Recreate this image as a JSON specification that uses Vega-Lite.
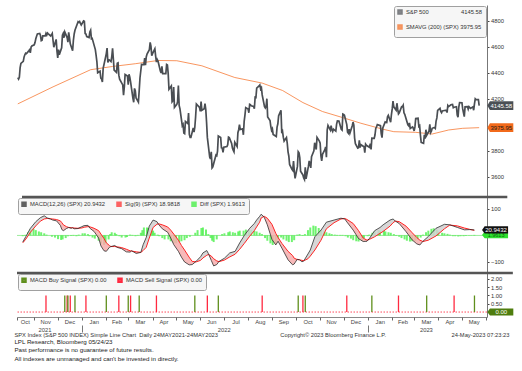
{
"$schema": "https://vega.github.io/schema/vega-lite/v6.json",
"padding": {"left": 14, "top": 5, "right": 0, "bottom": 0},
"background": "white",
"spacing": 1,
"bounds": "flush",
"config": {
  "font": "Liberation Sans",
  "view": {"stroke": null},
  "axis": {"grid": false, "title": null, "labelFont": "Liberation Sans", "labelFontSize": 5.8, "labelColor": "#333", "domainColor": "#777", "domainWidth": 1, "tickColor": "#444", "tickSize": 2, "labelPadding": 1.5, "labelOverlap": false},
  "legend": {"title": null, "labelFont": "Liberation Sans", "labelFontSize": 5.8, "labelColor": "#333", "symbolType": "square", "symbolSize": 9, "symbolStrokeWidth": 2.5, "fillColor": "#f6f6f6", "strokeColor": "#a0a0a0", "padding": 3, "cornerRadius": 2, "rowPadding": 1, "labelOffset": 3, "labelLimit": 0, "columnPadding": 6, "offset": 1}
},
"title": {
  "text": "SPX Index (S&P 500 INDEX) Simple Line Chart \u00a0Daily 24MAY2021-24MAY2023\u00a0\u00a0\u00a0\u00a0\u00a0\u00a0\u00a0\u00a0\u00a0\u00a0\u00a0\u00a0\u00a0\u00a0\u00a0\u00a0\u00a0\u00a0\u00a0\u00a0\u00a0\u00a0\u00a0\u00a0\u00a0\u00a0\u00a0\u00a0\u00a0\u00a0\u00a0\u00a0\u00a0\u00a0\u00a0\u00a0\u00a0\u00a0\u00a0Copyright© 2023 Bloomberg Finance L.P.\u00a0\u00a0\u00a0\u00a0\u00a0\u00a0\u00a0\u00a0\u00a0\u00a0\u00a0\u00a0\u00a0\u00a0\u00a0\u00a0\u00a0\u00a0\u00a0\u00a0\u00a0\u00a0\u00a0\u00a0\u00a0\u00a0\u00a0\u00a0\u00a0\u00a0\u00a0\u00a0\u00a0\u00a0\u00a0\u00a0\u00a0\u00a0\u00a0\u00a0\u00a024-May-2023 07:23:23",
  "subtitle": ["LPL Research, Bloomberg 05/24/23", "Past performance is no guarantee of future results.", "All indexes are unmanaged and can't be invested in directly."],
  "orient": "bottom", "anchor": "start", "offset": -1,
  "font": "Liberation Sans", "fontSize": 5.75, "fontWeight": "normal", "color": "#333",
  "subtitleFont": "Liberation Sans", "subtitleFontSize": 6.2, "subtitleColor": "#222", "subtitleLineHeight": 8.4, "subtitlePadding": 1.5
},
"resolve": {"scale": {"color": "independent"}, "legend": {"color": "independent"}},
"datasets": {
"spx": [
{"d":"2021-10-11","v":4361},{"d":"2021-10-12","v":4350},{"d":"2021-10-13","v":4364},{"d":"2021-10-14","v":4438},{"d":"2021-10-15","v":4471},{"d":"2021-10-18","v":4486},{"d":"2021-10-19","v":4519},{"d":"2021-10-20","v":4537},{"d":"2021-10-21","v":4549},{"d":"2021-10-22","v":4545},{"d":"2021-10-25","v":4567},{"d":"2021-10-26","v":4575},{"d":"2021-10-27","v":4552},{"d":"2021-10-28","v":4596},{"d":"2021-10-29","v":4605},
{"d":"2021-11-01","v":4613},{"d":"2021-11-02","v":4631},{"d":"2021-11-03","v":4660},{"d":"2021-11-04","v":4680},{"d":"2021-11-05","v":4697},{"d":"2021-11-08","v":4701},{"d":"2021-11-09","v":4685},{"d":"2021-11-10","v":4646},{"d":"2021-11-11","v":4649},{"d":"2021-11-12","v":4682},{"d":"2021-11-15","v":4682},{"d":"2021-11-16","v":4701},{"d":"2021-11-17","v":4688},{"d":"2021-11-18","v":4704},{"d":"2021-11-19","v":4698},{"d":"2021-11-22","v":4682},{"d":"2021-11-23","v":4690},{"d":"2021-11-24","v":4701},{"d":"2021-11-26","v":4595},{"d":"2021-11-29","v":4655},{"d":"2021-11-30","v":4567},
{"d":"2021-12-01","v":4513},{"d":"2021-12-02","v":4577},{"d":"2021-12-03","v":4538},{"d":"2021-12-06","v":4591},{"d":"2021-12-07","v":4687},{"d":"2021-12-08","v":4701},{"d":"2021-12-09","v":4668},{"d":"2021-12-10","v":4712},{"d":"2021-12-13","v":4669},{"d":"2021-12-14","v":4634},{"d":"2021-12-15","v":4710},{"d":"2021-12-16","v":4669},{"d":"2021-12-17","v":4621},{"d":"2021-12-20","v":4568},{"d":"2021-12-21","v":4649},{"d":"2021-12-22","v":4697},{"d":"2021-12-23","v":4726},{"d":"2021-12-27","v":4791},{"d":"2021-12-28","v":4786},{"d":"2021-12-29","v":4793},{"d":"2021-12-30","v":4778},{"d":"2021-12-31","v":4766},
{"d":"2022-01-03","v":4797},{"d":"2022-01-04","v":4794},{"d":"2022-01-05","v":4701},{"d":"2022-01-06","v":4696},{"d":"2022-01-07","v":4677},{"d":"2022-01-10","v":4670},{"d":"2022-01-11","v":4713},{"d":"2022-01-12","v":4726},{"d":"2022-01-13","v":4660},{"d":"2022-01-14","v":4663},{"d":"2022-01-18","v":4577},{"d":"2022-01-19","v":4533},{"d":"2022-01-20","v":4483},{"d":"2022-01-21","v":4398},{"d":"2022-01-24","v":4410},{"d":"2022-01-25","v":4357},{"d":"2022-01-26","v":4350},{"d":"2022-01-27","v":4327},{"d":"2022-01-28","v":4432},{"d":"2022-01-31","v":4516},
{"d":"2022-02-01","v":4546},{"d":"2022-02-02","v":4589},{"d":"2022-02-03","v":4477},{"d":"2022-02-04","v":4501},{"d":"2022-02-07","v":4484},{"d":"2022-02-08","v":4522},{"d":"2022-02-09","v":4587},{"d":"2022-02-10","v":4504},{"d":"2022-02-11","v":4419},{"d":"2022-02-14","v":4402},{"d":"2022-02-15","v":4472},{"d":"2022-02-16","v":4475},{"d":"2022-02-17","v":4380},{"d":"2022-02-18","v":4349},{"d":"2022-02-22","v":4305},{"d":"2022-02-23","v":4226},{"d":"2022-02-24","v":4289},{"d":"2022-02-25","v":4385},{"d":"2022-02-28","v":4374},
{"d":"2022-03-01","v":4306},{"d":"2022-03-02","v":4387},{"d":"2022-03-03","v":4364},{"d":"2022-03-04","v":4329},{"d":"2022-03-07","v":4201},{"d":"2022-03-08","v":4171},{"d":"2022-03-09","v":4278},{"d":"2022-03-10","v":4260},{"d":"2022-03-11","v":4204},{"d":"2022-03-14","v":4173},{"d":"2022-03-15","v":4262},{"d":"2022-03-16","v":4358},{"d":"2022-03-17","v":4412},{"d":"2022-03-18","v":4463},{"d":"2022-03-21","v":4461},{"d":"2022-03-22","v":4512},{"d":"2022-03-23","v":4457},{"d":"2022-03-24","v":4520},{"d":"2022-03-25","v":4543},{"d":"2022-03-28","v":4576},{"d":"2022-03-29","v":4632},{"d":"2022-03-30","v":4603},{"d":"2022-03-31","v":4530},
{"d":"2022-04-01","v":4546},{"d":"2022-04-04","v":4583},{"d":"2022-04-05","v":4526},{"d":"2022-04-06","v":4481},{"d":"2022-04-07","v":4500},{"d":"2022-04-08","v":4488},{"d":"2022-04-11","v":4413},{"d":"2022-04-12","v":4397},{"d":"2022-04-13","v":4447},{"d":"2022-04-14","v":4392},{"d":"2022-04-18","v":4392},{"d":"2022-04-19","v":4463},{"d":"2022-04-20","v":4459},{"d":"2022-04-21","v":4394},{"d":"2022-04-22","v":4272},{"d":"2022-04-25","v":4297},{"d":"2022-04-26","v":4175},{"d":"2022-04-27","v":4183},{"d":"2022-04-28","v":4288},{"d":"2022-04-29","v":4132},
{"d":"2022-05-02","v":4155},{"d":"2022-05-03","v":4175},{"d":"2022-05-04","v":4300},{"d":"2022-05-05","v":4147},{"d":"2022-05-06","v":4123},{"d":"2022-05-09","v":3991},{"d":"2022-05-10","v":4001},{"d":"2022-05-11","v":3935},{"d":"2022-05-12","v":3930},{"d":"2022-05-13","v":4024},{"d":"2022-05-16","v":4008},{"d":"2022-05-17","v":4088},{"d":"2022-05-18","v":3924},{"d":"2022-05-19","v":3901},{"d":"2022-05-20","v":3901},{"d":"2022-05-23","v":3974},{"d":"2022-05-24","v":3941},{"d":"2022-05-25","v":3979},{"d":"2022-05-26","v":4058},{"d":"2022-05-27","v":4158},{"d":"2022-05-31","v":4132},
{"d":"2022-06-01","v":4101},{"d":"2022-06-02","v":4177},{"d":"2022-06-03","v":4109},{"d":"2022-06-06","v":4121},{"d":"2022-06-07","v":4161},{"d":"2022-06-08","v":4116},{"d":"2022-06-09","v":4018},{"d":"2022-06-10","v":3901},{"d":"2022-06-13","v":3750},{"d":"2022-06-14","v":3735},{"d":"2022-06-15","v":3790},{"d":"2022-06-16","v":3667},{"d":"2022-06-17","v":3675},{"d":"2022-06-21","v":3765},{"d":"2022-06-22","v":3760},{"d":"2022-06-23","v":3796},{"d":"2022-06-24","v":3912},{"d":"2022-06-27","v":3901},{"d":"2022-06-28","v":3821},{"d":"2022-06-29","v":3819},{"d":"2022-06-30","v":3785},
{"d":"2022-07-01","v":3825},{"d":"2022-07-05","v":3831},{"d":"2022-07-06","v":3845},{"d":"2022-07-07","v":3903},{"d":"2022-07-08","v":3899},{"d":"2022-07-11","v":3855},{"d":"2022-07-12","v":3819},{"d":"2022-07-13","v":3802},{"d":"2022-07-14","v":3790},{"d":"2022-07-15","v":3863},{"d":"2022-07-18","v":3831},{"d":"2022-07-19","v":3937},{"d":"2022-07-20","v":3960},{"d":"2022-07-21","v":3999},{"d":"2022-07-22","v":3962},{"d":"2022-07-25","v":3967},{"d":"2022-07-26","v":3921},{"d":"2022-07-27","v":4024},{"d":"2022-07-28","v":4072},{"d":"2022-07-29","v":4130},
{"d":"2022-08-01","v":4119},{"d":"2022-08-02","v":4091},{"d":"2022-08-03","v":4155},{"d":"2022-08-04","v":4152},{"d":"2022-08-05","v":4145},{"d":"2022-08-08","v":4140},{"d":"2022-08-09","v":4122},{"d":"2022-08-10","v":4210},{"d":"2022-08-11","v":4208},{"d":"2022-08-12","v":4280},{"d":"2022-08-15","v":4297},{"d":"2022-08-16","v":4305},{"d":"2022-08-17","v":4275},{"d":"2022-08-18","v":4284},{"d":"2022-08-19","v":4228},{"d":"2022-08-22","v":4138},{"d":"2022-08-23","v":4128},{"d":"2022-08-24","v":4141},{"d":"2022-08-25","v":4199},{"d":"2022-08-26","v":4058},{"d":"2022-08-29","v":4031},{"d":"2022-08-30","v":3986},{"d":"2022-08-31","v":3955},
{"d":"2022-09-01","v":3967},{"d":"2022-09-02","v":3924},{"d":"2022-09-06","v":3908},{"d":"2022-09-07","v":3980},{"d":"2022-09-08","v":4006},{"d":"2022-09-09","v":4067},{"d":"2022-09-12","v":4110},{"d":"2022-09-13","v":3933},{"d":"2022-09-14","v":3946},{"d":"2022-09-15","v":3901},{"d":"2022-09-16","v":3873},{"d":"2022-09-19","v":3900},{"d":"2022-09-20","v":3856},{"d":"2022-09-21","v":3790},{"d":"2022-09-22","v":3758},{"d":"2022-09-23","v":3693},{"d":"2022-09-26","v":3655},{"d":"2022-09-27","v":3647},{"d":"2022-09-28","v":3719},{"d":"2022-09-29","v":3640},{"d":"2022-09-30","v":3586},
{"d":"2022-10-03","v":3678},{"d":"2022-10-04","v":3791},{"d":"2022-10-05","v":3783},{"d":"2022-10-06","v":3745},{"d":"2022-10-07","v":3640},{"d":"2022-10-10","v":3612},{"d":"2022-10-11","v":3589},{"d":"2022-10-12","v":3577},{"d":"2022-10-13","v":3670},{"d":"2022-10-14","v":3583},{"d":"2022-10-17","v":3678},{"d":"2022-10-18","v":3720},{"d":"2022-10-19","v":3696},{"d":"2022-10-20","v":3666},{"d":"2022-10-21","v":3753},{"d":"2022-10-24","v":3797},{"d":"2022-10-25","v":3860},{"d":"2022-10-26","v":3831},{"d":"2022-10-27","v":3808},{"d":"2022-10-28","v":3901},{"d":"2022-10-31","v":3872},
{"d":"2022-11-01","v":3856},{"d":"2022-11-02","v":3759},{"d":"2022-11-03","v":3720},{"d":"2022-11-04","v":3771},{"d":"2022-11-07","v":3807},{"d":"2022-11-08","v":3828},{"d":"2022-11-09","v":3749},{"d":"2022-11-10","v":3957},{"d":"2022-11-11","v":3993},{"d":"2022-11-14","v":3957},{"d":"2022-11-15","v":3992},{"d":"2022-11-16","v":3959},{"d":"2022-11-17","v":3947},{"d":"2022-11-18","v":3965},{"d":"2022-11-21","v":3950},{"d":"2022-11-22","v":4003},{"d":"2022-11-23","v":4027},{"d":"2022-11-25","v":4026},{"d":"2022-11-28","v":3964},{"d":"2022-11-29","v":3958},{"d":"2022-11-30","v":4080},
{"d":"2022-12-01","v":4077},{"d":"2022-12-02","v":4072},{"d":"2022-12-05","v":3999},{"d":"2022-12-06","v":3941},{"d":"2022-12-07","v":3933},{"d":"2022-12-08","v":3964},{"d":"2022-12-09","v":3934},{"d":"2022-12-12","v":3991},{"d":"2022-12-13","v":4019},{"d":"2022-12-14","v":3996},{"d":"2022-12-15","v":3896},{"d":"2022-12-16","v":3852},{"d":"2022-12-19","v":3818},{"d":"2022-12-20","v":3821},{"d":"2022-12-21","v":3879},{"d":"2022-12-22","v":3823},{"d":"2022-12-23","v":3845},{"d":"2022-12-27","v":3829},{"d":"2022-12-28","v":3784},{"d":"2022-12-29","v":3849},{"d":"2022-12-30","v":3840},
{"d":"2023-01-03","v":3825},{"d":"2023-01-04","v":3853},{"d":"2023-01-05","v":3808},{"d":"2023-01-06","v":3895},{"d":"2023-01-09","v":3893},{"d":"2023-01-10","v":3919},{"d":"2023-01-11","v":3970},{"d":"2023-01-12","v":3983},{"d":"2023-01-13","v":3999},{"d":"2023-01-17","v":3991},{"d":"2023-01-18","v":3929},{"d":"2023-01-19","v":3899},{"d":"2023-01-20","v":3973},{"d":"2023-01-23","v":4020},{"d":"2023-01-24","v":4017},{"d":"2023-01-25","v":4016},{"d":"2023-01-26","v":4060},{"d":"2023-01-27","v":4071},{"d":"2023-01-30","v":4018},{"d":"2023-01-31","v":4077},
{"d":"2023-02-01","v":4120},{"d":"2023-02-02","v":4180},{"d":"2023-02-03","v":4136},{"d":"2023-02-06","v":4111},{"d":"2023-02-07","v":4164},{"d":"2023-02-08","v":4118},{"d":"2023-02-09","v":4082},{"d":"2023-02-10","v":4090},{"d":"2023-02-13","v":4137},{"d":"2023-02-14","v":4136},{"d":"2023-02-15","v":4148},{"d":"2023-02-16","v":4090},{"d":"2023-02-17","v":4079},{"d":"2023-02-21","v":3998},{"d":"2023-02-22","v":3991},{"d":"2023-02-23","v":4012},{"d":"2023-02-24","v":3970},{"d":"2023-02-27","v":3982},{"d":"2023-02-28","v":3970},
{"d":"2023-03-01","v":3951},{"d":"2023-03-02","v":3982},{"d":"2023-03-03","v":4046},{"d":"2023-03-06","v":4048},{"d":"2023-03-07","v":3986},{"d":"2023-03-08","v":3992},{"d":"2023-03-09","v":3918},{"d":"2023-03-10","v":3862},{"d":"2023-03-13","v":3855},{"d":"2023-03-14","v":3920},{"d":"2023-03-15","v":3892},{"d":"2023-03-16","v":3960},{"d":"2023-03-17","v":3917},{"d":"2023-03-20","v":3951},{"d":"2023-03-21","v":4002},{"d":"2023-03-22","v":3937},{"d":"2023-03-23","v":3948},{"d":"2023-03-24","v":3971},{"d":"2023-03-27","v":3977},{"d":"2023-03-28","v":3971},{"d":"2023-03-29","v":4027},{"d":"2023-03-30","v":4051},{"d":"2023-03-31","v":4109},
{"d":"2023-04-03","v":4125},{"d":"2023-04-04","v":4101},{"d":"2023-04-05","v":4091},{"d":"2023-04-06","v":4105},{"d":"2023-04-10","v":4110},{"d":"2023-04-11","v":4109},{"d":"2023-04-12","v":4092},{"d":"2023-04-13","v":4146},{"d":"2023-04-14","v":4138},{"d":"2023-04-17","v":4152},{"d":"2023-04-18","v":4154},{"d":"2023-04-19","v":4155},{"d":"2023-04-20","v":4130},{"d":"2023-04-21","v":4133},{"d":"2023-04-24","v":4137},{"d":"2023-04-25","v":4072},{"d":"2023-04-26","v":4056},{"d":"2023-04-27","v":4135},{"d":"2023-04-28","v":4169},
{"d":"2023-05-01","v":4168},{"d":"2023-05-02","v":4120},{"d":"2023-05-03","v":4091},{"d":"2023-05-04","v":4061},{"d":"2023-05-05","v":4136},{"d":"2023-05-08","v":4138},{"d":"2023-05-09","v":4119},{"d":"2023-05-10","v":4138},{"d":"2023-05-11","v":4131},{"d":"2023-05-12","v":4124},{"d":"2023-05-15","v":4136},{"d":"2023-05-16","v":4110},{"d":"2023-05-17","v":4159},{"d":"2023-05-18","v":4198},{"d":"2023-05-19","v":4192},{"d":"2023-05-22","v":4192},{"d":"2023-05-23","v":4145.58}
],
"sma": [
{"d":"2021-10-11","v":4159},{"d":"2021-11-25","v":4290},{"d":"2022-01-12","v":4422},{"d":"2022-02-09","v":4447},{"d":"2022-03-10","v":4468},{"d":"2022-04-08","v":4493},{"d":"2022-05-02","v":4491},{"d":"2022-06-03","v":4452},{"d":"2022-07-15","v":4362},{"d":"2022-08-19","v":4319},{"d":"2022-09-14","v":4262},{"d":"2022-10-10","v":4169},{"d":"2022-11-04","v":4100},{"d":"2022-11-30","v":4053},{"d":"2022-12-23","v":4010},{"d":"2023-01-20","v":3964},{"d":"2023-02-03","v":3945},{"d":"2023-03-03","v":3940},{"d":"2023-03-24","v":3927},{"d":"2023-04-14","v":3958},{"d":"2023-05-02","v":3971},{"d":"2023-05-23","v":3975.95}
],
"macd": [
{"d":"2021-10-11","m":-25,"s":-28},{"d":"2021-10-15","m":-4,"s":-14},{"d":"2021-10-21","m":27,"s":12},{"d":"2021-10-28","m":52,"s":36},{"d":"2021-11-03","m":67,"s":54},{"d":"2021-11-08","m":74,"s":62},{"d":"2021-11-12","m":66,"s":64},{"d":"2021-11-16","m":62,"s":63},{"d":"2021-11-19","m":58,"s":62},{"d":"2021-11-24","m":55,"s":60},{"d":"2021-11-29","m":38,"s":55},{"d":"2021-12-01","m":22,"s":48},{"d":"2021-12-03","m":18,"s":40},{"d":"2021-12-07","m":26,"s":33},{"d":"2021-12-10","m":30,"s":30},{"d":"2021-12-13","m":27,"s":29},{"d":"2021-12-15","m":29,"s":29},{"d":"2021-12-17","m":25,"s":28},{"d":"2021-12-22","m":26,"s":27},{"d":"2021-12-27","m":33,"s":28},{"d":"2021-12-30","m":37,"s":31},
{"d":"2022-01-04","m":38,"s":33},{"d":"2022-01-07","m":26,"s":32},{"d":"2022-01-12","m":15,"s":27},{"d":"2022-01-18","m":-10,"s":18},{"d":"2022-01-21","m":-40,"s":5},{"d":"2022-01-25","m":-58,"s":-12},{"d":"2022-01-28","m":-60,"s":-28},{"d":"2022-02-01","m":-45,"s":-38},{"d":"2022-02-03","m":-42,"s":-42},{"d":"2022-02-08","m":-38,"s":-42},{"d":"2022-02-11","m":-45,"s":-43},{"d":"2022-02-17","m":-50,"s":-46},{"d":"2022-02-23","m":-62,"s":-52},{"d":"2022-02-28","m":-63,"s":-58},{"d":"2022-03-02","m":-58,"s":-59},{"d":"2022-03-08","m":-68,"s":-62},{"d":"2022-03-14","m":-64,"s":-64},{"d":"2022-03-17","m":-35,"s":-57},{"d":"2022-03-21","m":-8,"s":-45},{"d":"2022-03-25","m":35,"s":-10},{"d":"2022-03-30","m":58,"s":30},{"d":"2022-04-04","m":52,"s":42},{"d":"2022-04-06","m":42,"s":44},{"d":"2022-04-11","m":25,"s":40},{"d":"2022-04-18","m":12,"s":32},{"d":"2022-04-22","m":-10,"s":20},{"d":"2022-04-26","m":-35,"s":5},{"d":"2022-05-02","m":-60,"s":-18},{"d":"2022-05-06","m":-82,"s":-38},{"d":"2022-05-10","m":-100,"s":-55},{"d":"2022-05-16","m":-111,"s":-82},{"d":"2022-05-20","m":-110,"s":-98},{"d":"2022-05-25","m":-98,"s":-100},{"d":"2022-05-31","m":-80,"s":-94},{"d":"2022-06-03","m":-66,"s":-85},{"d":"2022-06-08","m":-57,"s":-75},{"d":"2022-06-10","m":-68,"s":-72},{"d":"2022-06-14","m":-95,"s":-78},{"d":"2022-06-17","m":-115,"s":-88},{"d":"2022-06-21","m":-110,"s":-96},{"d":"2022-06-24","m":-98,"s":-99},{"d":"2022-07-01","m":-86,"s":-93},{"d":"2022-07-08","m":-66,"s":-81},{"d":"2022-07-15","m":-60,"s":-71},{"d":"2022-07-21","m":-28,"s":-52},{"d":"2022-07-27","m":0,"s":-30},{"d":"2022-08-03","m":27,"s":-3},{"d":"2022-08-09","m":45,"s":18},{"d":"2022-08-12","m":58,"s":32},{"d":"2022-08-16","m":72,"s":50},{"d":"2022-08-18","m":80,"s":66},{"d":"2022-08-22","m":68,"s":72},{"d":"2022-08-26","m":40,"s":65},{"d":"2022-09-01","m":-15,"s":42},{"d":"2022-09-06","m":-36,"s":8},{"d":"2022-09-09","m":-22,"s":-8},{"d":"2022-09-14","m":-48,"s":-30},{"d":"2022-09-22","m":-92,"s":-60},{"d":"2022-09-28","m":-111,"s":-76},{"d":"2022-09-30","m":-108,"s":-86},{"d":"2022-10-04","m":-90,"s":-91},{"d":"2022-10-07","m":-92,"s":-92},{"d":"2022-10-10","m":-99,"s":-94},{"d":"2022-10-12","m":-98,"s":-95},{"d":"2022-10-13","m":-94,"s":-95},{"d":"2022-10-18","m":-70,"s":-88},{"d":"2022-10-21","m":-55,"s":-78},{"d":"2022-10-27","m":-5,"s":-55},{"d":"2022-11-04","m":20,"s":-18},{"d":"2022-11-11","m":50,"s":25},{"d":"2022-11-21","m":58,"s":48},{"d":"2022-11-30","m":65,"s":62},{"d":"2022-12-05","m":62,"s":64},{"d":"2022-12-08","m":50,"s":60},{"d":"2022-12-16","m":20,"s":45},{"d":"2022-12-23","m":-12,"s":18},{"d":"2022-12-29","m":-23,"s":-10},
{"d":"2023-01-03","m":-22,"s":-18},{"d":"2023-01-06","m":-12,"s":-15},{"d":"2023-01-13","m":18,"s":-5},{"d":"2023-01-20","m":30,"s":8},{"d":"2023-01-24","m":40,"s":15},{"d":"2023-02-02","m":58,"s":35},{"d":"2023-02-06","m":62,"s":48},{"d":"2023-02-09","m":54,"s":54},{"d":"2023-02-14","m":45,"s":52},{"d":"2023-02-23","m":14,"s":35},{"d":"2023-03-03","m":-17,"s":10},{"d":"2023-03-09","m":-32,"s":-8},{"d":"2023-03-13","m":-36,"s":-18},{"d":"2023-03-17","m":-22,"s":-23},{"d":"2023-03-24","m":-4,"s":-18},{"d":"2023-04-03","m":27,"s":-2},{"d":"2023-04-14","m":42,"s":25},{"d":"2023-04-21","m":40,"s":39},{"d":"2023-05-01","m":30,"s":36},{"d":"2023-05-10","m":21,"s":28},{"d":"2023-05-17","m":22,"s":23},{"d":"2023-05-23","m":20.94,"s":18.98}
],
"hist": [
{"d":"2021-10-11","h":-3},{"d":"2021-10-14","h":2},{"d":"2021-10-18","h":12},{"d":"2021-10-21","h":22},{"d":"2021-10-25","h":25},{"d":"2021-10-28","h":20},{"d":"2021-11-01","h":15},{"d":"2021-11-04","h":12},{"d":"2021-11-08","h":8},{"d":"2021-11-11","h":3},{"d":"2021-11-15","h":0},{"d":"2021-11-18","h":-5},{"d":"2021-11-22","h":-8},{"d":"2021-11-26","h":-14},{"d":"2021-11-30","h":-17},{"d":"2021-12-02","h":-15},{"d":"2021-12-06","h":-10},{"d":"2021-12-09","h":-3},{"d":"2021-12-13","h":-2},{"d":"2021-12-16","h":2},{"d":"2021-12-20","h":-3},{"d":"2021-12-23","h":3},{"d":"2021-12-28","h":8},{"d":"2021-12-31","h":8},
{"d":"2022-01-04","h":5},{"d":"2022-01-06","h":-3},{"d":"2022-01-10","h":-8},{"d":"2022-01-13","h":-12},{"d":"2022-01-18","h":-20},{"d":"2022-01-21","h":-30},{"d":"2022-01-25","h":-36},{"d":"2022-01-27","h":-30},{"d":"2022-01-31","h":-15},{"d":"2022-02-02","h":5},{"d":"2022-02-04","h":12},{"d":"2022-02-08","h":10},{"d":"2022-02-10","h":5},{"d":"2022-02-14","h":-3},{"d":"2022-02-17","h":-8},{"d":"2022-02-22","h":-8},{"d":"2022-02-24","h":-6},{"d":"2022-02-28","h":3},{"d":"2022-03-03","h":2},{"d":"2022-03-07","h":-3},{"d":"2022-03-10","h":2},{"d":"2022-03-14","h":10},{"d":"2022-03-16","h":20},{"d":"2022-03-18","h":30},{"d":"2022-03-22","h":30},{"d":"2022-03-24","h":28},{"d":"2022-03-28","h":25},{"d":"2022-03-30","h":18},{"d":"2022-04-01","h":10},{"d":"2022-04-05","h":3},{"d":"2022-04-07","h":-3},{"d":"2022-04-11","h":-10},{"d":"2022-04-14","h":-15},{"d":"2022-04-19","h":-15},{"d":"2022-04-22","h":-22},{"d":"2022-04-26","h":-28},{"d":"2022-04-29","h":-30},{"d":"2022-05-03","h":-25},{"d":"2022-05-06","h":-22},{"d":"2022-05-10","h":-18},{"d":"2022-05-13","h":-10},{"d":"2022-05-17","h":-5},{"d":"2022-05-20","h":0},{"d":"2022-05-24","h":10},{"d":"2022-05-27","h":20},{"d":"2022-06-01","h":28},{"d":"2022-06-03","h":30},{"d":"2022-06-07","h":22},{"d":"2022-06-10","h":5},{"d":"2022-06-13","h":-10},{"d":"2022-06-15","h":-20},{"d":"2022-06-17","h":-25},{"d":"2022-06-21","h":-15},{"d":"2022-06-24","h":0},{"d":"2022-06-28","h":5},{"d":"2022-07-01","h":8},{"d":"2022-07-06","h":12},{"d":"2022-07-08","h":15},{"d":"2022-07-12","h":12},{"d":"2022-07-15","h":10},{"d":"2022-07-19","h":15},{"d":"2022-07-21","h":18},{"d":"2022-07-26","h":18},{"d":"2022-07-29","h":22},{"d":"2022-08-02","h":20},{"d":"2022-08-05","h":20},{"d":"2022-08-09","h":18},{"d":"2022-08-12","h":15},{"d":"2022-08-16","h":10},{"d":"2022-08-19","h":5},{"d":"2022-08-23","h":-10},{"d":"2022-08-26","h":-20},{"d":"2022-08-30","h":-30},{"d":"2022-09-02","h":-36},{"d":"2022-09-06","h":-30},{"d":"2022-09-09","h":-15},{"d":"2022-09-13","h":-8},{"d":"2022-09-16","h":-15},{"d":"2022-09-20","h":-20},{"d":"2022-09-23","h":-25},{"d":"2022-09-27","h":-25},{"d":"2022-09-30","h":-18},{"d":"2022-10-04","h":3},{"d":"2022-10-07","h":5},{"d":"2022-10-11","h":-2},{"d":"2022-10-14","h":5},{"d":"2022-10-18","h":20},{"d":"2022-10-21","h":30},{"d":"2022-10-25","h":37},{"d":"2022-10-28","h":35},{"d":"2022-11-01","h":28},{"d":"2022-11-04","h":20},{"d":"2022-11-08","h":15},{"d":"2022-11-11","h":12},{"d":"2022-11-15","h":8},{"d":"2022-11-18","h":5},{"d":"2022-11-22","h":3},{"d":"2022-11-25","h":2},{"d":"2022-11-29","h":2},{"d":"2022-12-02","h":2},{"d":"2022-12-06","h":-3},{"d":"2022-12-09","h":-8},{"d":"2022-12-13","h":-12},{"d":"2022-12-16","h":-18},{"d":"2022-12-20","h":-22},{"d":"2022-12-23","h":-23},{"d":"2022-12-28","h":-20},{"d":"2022-12-30","h":-10},
{"d":"2023-01-04","h":-3},{"d":"2023-01-06","h":3},{"d":"2023-01-10","h":10},{"d":"2023-01-13","h":15},{"d":"2023-01-18","h":20},{"d":"2023-01-20","h":18},{"d":"2023-01-25","h":20},{"d":"2023-01-27","h":15},{"d":"2023-01-31","h":12},{"d":"2023-02-03","h":10},{"d":"2023-02-07","h":5},{"d":"2023-02-10","h":-2},{"d":"2023-02-14","h":-5},{"d":"2023-02-17","h":-10},{"d":"2023-02-21","h":-15},{"d":"2023-02-24","h":-20},{"d":"2023-02-28","h":-23},{"d":"2023-03-03","h":-22},{"d":"2023-03-07","h":-20},{"d":"2023-03-10","h":-15},{"d":"2023-03-14","h":-8},{"d":"2023-03-17","h":3},{"d":"2023-03-21","h":12},{"d":"2023-03-24","h":18},{"d":"2023-03-28","h":25},{"d":"2023-03-31","h":27},{"d":"2023-04-04","h":22},{"d":"2023-04-06","h":15},{"d":"2023-04-11","h":10},{"d":"2023-04-14","h":8},{"d":"2023-04-18","h":6},{"d":"2023-04-21","h":3},{"d":"2023-04-25","h":-3},{"d":"2023-04-28","h":-3},{"d":"2023-05-02","h":-4},{"d":"2023-05-05","h":-3},{"d":"2023-05-09","h":-3},{"d":"2023-05-12","h":-2},{"d":"2023-05-16","h":-1},{"d":"2023-05-19","h":1},{"d":"2023-05-23","h":2}
],
"sig": [
{"d":"2021-11-16","g":"s"},{"d":"2021-12-10","g":"b"},{"d":"2021-12-13","g":"s"},{"d":"2021-12-14","g":"b"},{"d":"2021-12-17","g":"s"},{"d":"2021-12-23","g":"b"},{"d":"2022-01-06","g":"s"},{"d":"2022-02-01","g":"b"},{"d":"2022-02-17","g":"s"},{"d":"2022-03-01","g":"b"},{"d":"2022-03-04","g":"s"},{"d":"2022-03-15","g":"b"},{"d":"2022-04-06","g":"s"},{"d":"2022-05-25","g":"b"},{"d":"2022-06-10","g":"s"},{"d":"2022-06-24","g":"b"},{"d":"2022-08-19","g":"s"},{"d":"2022-10-04","g":"b"},{"d":"2022-10-10","g":"s"},{"d":"2022-10-13","g":"b"},{"d":"2022-12-05","g":"s"},{"d":"2023-01-06","g":"b"},{"d":"2023-02-09","g":"s"},{"d":"2023-03-17","g":"b"},{"d":"2023-04-21","g":"s"},{"d":"2023-05-17","g":"b"}
]
},
"vconcat": [
{
  "width": 470, "height": 191,
  "layer": [
    {"data": {"name": "sma"}, "mark": {"type": "line", "strokeWidth": 1, "opacity": 0.7},
     "encoding": {
       "x": {"field": "d", "type": "temporal", "scale": {"domain": [{"year": 2021, "month": 10, "date": 10}, {"year": 2023, "month": 6, "date": 2}], "nice": false}, "axis": null},
       "y": {"field": "v", "type": "quantitative", "scale": {"domain": [3450, 4920], "nice": false, "zero": false}, "axis": {"orient": "right", "values": [3600, 3800, 4200, 4400, 4600, 4800], "tickCount": 50, "format": "d", "labelOverlap": false}},
       "color": {"datum": "SMAVG (200) (SPX) 3975.95", "scale": {"domain": ["S&P 500\u00a0\u00a0\u00a0\u00a0\u00a0\u00a0\u00a0\u00a0\u00a0\u00a0\u00a0\u00a0\u00a0\u00a0\u00a0\u00a0\u00a0\u00a0\u00a0\u00a04145.58", "SMAVG (200) (SPX) 3975.95"], "range": ["#4a4e53", "#f56a1c"]}, "legend": {"orient": "top-right"}}
     }},
    {"data": {"name": "spx"}, "mark": {"type": "line", "strokeWidth": 1.7},
     "encoding": {
       "x": {"field": "d", "type": "temporal"},
       "y": {"field": "v", "type": "quantitative"},
       "color": {"datum": "S&P 500\u00a0\u00a0\u00a0\u00a0\u00a0\u00a0\u00a0\u00a0\u00a0\u00a0\u00a0\u00a0\u00a0\u00a0\u00a0\u00a0\u00a0\u00a0\u00a0\u00a04145.58"}
     }},
    {"data": {"values": [{"v": 3975.95, "t": "3975.95"}]},
     "encoding": {"x": {"datum": {"year": 2023, "month": 6, "date": 19}}, "y": {"field": "v", "type": "quantitative"}},
     "layer": [
       {"mark": {"type": "point", "shape": "M-1,0L-0.8,-0.34L1,-0.34L1,0.34L-0.8,0.34Z", "size": 676, "filled": true, "color": "#f26a1b", "opacity": 1, "strokeWidth": 0}},
       {"mark": {"type": "text", "fontSize": 6, "color": "#1a1a1a", "align": "center", "baseline": "middle", "dx": 1}, "encoding": {"text": {"field": "t"}}}
     ]},
    {"data": {"values": [{"v": 4145.58, "t": "4145.58"}]},
     "encoding": {"x": {"datum": {"year": 2023, "month": 6, "date": 19}}, "y": {"field": "v", "type": "quantitative"}},
     "layer": [
       {"mark": {"type": "point", "shape": "M-1,0L-0.8,-0.34L1,-0.34L1,0.34L-0.8,0.34Z", "size": 676, "filled": true, "color": "#4a4f55", "opacity": 1, "strokeWidth": 0}},
       {"mark": {"type": "text", "fontSize": 6, "color": "white", "align": "center", "baseline": "middle", "dx": 1}, "encoding": {"text": {"field": "t"}}}
     ]}
  ]
},
{
  "width": 470, "height": 75,
  "layer": [
    {"data": {"values": [{}]}, "mark": {"type": "rule", "color": "#9ceb9c", "strokeWidth": 1},
     "encoding": {
       "y": {"datum": 0, "type": "quantitative", "scale": {"domain": [-138, 145], "nice": false, "zero": false}, "axis": {"orient": "right", "values": [-100, 100], "tickCount": 50, "format": "d", "labelOverlap": false}}
     }},
    {"data": {"name": "hist"}, "mark": {"type": "bar", "width": 2, "opacity": 0.7},
     "encoding": {
       "x": {"field": "d", "type": "temporal", "scale": {"domain": [{"year": 2021, "month": 10, "date": 10}, {"year": 2023, "month": 6, "date": 2}], "nice": false}, "axis": null},
       "y": {"field": "h", "type": "quantitative"},
       "y2": {"datum": 0},
       "color": {"datum": "Diff (SPX) 1.9613", "scale": {"domain": ["MACD(12,26) (SPX) 20.9432", "Sig(9) (SPX) 18.9818", "Diff (SPX) 1.9613"], "range": ["#222222", "#ff2424", "#33ee33"]}, "legend": {"orient": "top-left", "direction": "horizontal"}}
     }},
    {"data": {"name": "macd"},
     "transform": [{"fold": ["m", "s"], "as": ["k", "val"]}, {"joinaggregate": [{"op": "max", "field": "val", "as": "hi"}], "groupby": ["d"]}, {"filter": "datum.k == 'm'"}],
     "mark": {"type": "area", "color": "#f6adad", "opacity": 0.85},
     "encoding": {"x": {"field": "d", "type": "temporal"}, "y": {"field": "val", "type": "quantitative"}, "y2": {"field": "hi"}}},
    {"data": {"name": "macd"},
     "transform": [{"fold": ["m", "s"], "as": ["k", "val"]}, {"joinaggregate": [{"op": "max", "field": "val", "as": "hi"}], "groupby": ["d"]}, {"filter": "datum.k == 's'"}],
     "mark": {"type": "area", "color": "#d0d0d0", "opacity": 0.85},
     "encoding": {"x": {"field": "d", "type": "temporal"}, "y": {"field": "val", "type": "quantitative"}, "y2": {"field": "hi"}}},
    {"data": {"name": "macd"}, "mark": {"type": "line", "strokeWidth": 1},
     "encoding": {"x": {"field": "d", "type": "temporal"}, "y": {"field": "s", "type": "quantitative"}, "color": {"datum": "Sig(9) (SPX) 18.9818"}}},
    {"data": {"name": "macd"}, "mark": {"type": "line", "strokeWidth": 1, "opacity": 0.75},
     "encoding": {"x": {"field": "d", "type": "temporal"}, "y": {"field": "m", "type": "quantitative"}, "color": {"datum": "MACD(12,26) (SPX) 20.9432"}}},
    {"data": {"values": [{}]}, "mark": {"type": "rule", "color": "#555", "strokeWidth": 2.5},
     "encoding": {"x": {"datum": {"year": 2021, "month": 10, "date": 10}}, "x2": {"datum": {"year": 2023, "month": 7, "date": 5}}, "y": {"datum": 145}}},
    {"data": {"values": [{"v": 1.9613, "t": "1.9613"}]},
     "encoding": {"x": {"datum": {"year": 2023, "month": 6, "date": 19}}, "y": {"field": "v", "type": "quantitative"}},
     "layer": [
       {"mark": {"type": "point", "shape": "M-1,0L-0.8,-0.26L1,-0.26L1,0.26L-0.8,0.26Z", "size": 676, "filled": true, "color": "#2fe02f", "opacity": 1, "strokeWidth": 0}},
       {"mark": {"type": "text", "fontSize": 5.5, "color": "#0b6b0b", "align": "center", "baseline": "middle", "dx": 1}, "encoding": {"text": {"field": "t"}}}
     ]},
    {"data": {"values": [{"v": 20.9432, "t": "20.9432"}]},
     "encoding": {"x": {"datum": {"year": 2023, "month": 6, "date": 19}}, "y": {"field": "v", "type": "quantitative"}},
     "layer": [
       {"mark": {"type": "point", "shape": "M-1,0L-0.8,-0.27L1,-0.27L1,0.27L-0.8,0.27Z", "size": 676, "filled": true, "color": "#111111", "opacity": 1, "strokeWidth": 0}},
       {"mark": {"type": "text", "fontSize": 6, "color": "white", "align": "center", "baseline": "middle", "dx": 1}, "encoding": {"text": {"field": "t"}}}
     ]}
  ]
},
{
  "width": 470, "height": 44,
  "resolve": {"axis": {"x": "independent"}},
  "layer": [
    {"data": {"values": [{}]}, "mark": {"type": "rule", "color": "#ff4a5a", "strokeWidth": 1, "strokeDash": [1.5, 1.5]},
     "encoding": {
       "y": {"datum": 0, "type": "quantitative", "scale": {"domain": [-0.3, 2.36], "nice": false, "zero": false}, "axis": {"orient": "right", "values": [0.5, 1, 1.5, 2], "tickCount": 50, "format": ".2f", "labelOverlap": false}}
     }},
    {"data": {"name": "sig"}, "mark": {"type": "rule", "strokeWidth": 1.3},
     "encoding": {
       "x": {"field": "d", "type": "temporal", "scale": {"domain": [{"year": 2021, "month": 10, "date": 10}, {"year": 2023, "month": 6, "date": 2}], "nice": false},
             "axis": {"orient": "bottom", "ticks": false, "domain": true, "domainColor": "#888", "labelPadding": 1, "labelFlush": false, "labelOverlap": false, "labelColor": "#444", "tickCount": 60,
                      "labelExpr": "timeFormat(datum.value, '%b')",
                      "values": [{"year":2021,"month":10,"date":20},{"year":2021,"month":11,"date":15},{"year":2021,"month":12,"date":16},{"year":2022,"month":1,"date":16},{"year":2022,"month":2,"date":14},{"year":2022,"month":3,"date":16},{"year":2022,"month":4,"date":15},{"year":2022,"month":5,"date":16},{"year":2022,"month":6,"date":15},{"year":2022,"month":7,"date":16},{"year":2022,"month":8,"date":16},{"year":2022,"month":9,"date":15},{"year":2022,"month":10,"date":16},{"year":2022,"month":11,"date":15},{"year":2022,"month":12,"date":16},{"year":2023,"month":1,"date":16},{"year":2023,"month":2,"date":14},{"year":2023,"month":3,"date":16},{"year":2023,"month":4,"date":15},{"year":2023,"month":5,"date":16}]}},
       "y": {"datum": 0},
       "y2": {"datum": 1},
       "color": {"field": "g", "type": "nominal", "scale": {"domain": ["b", "s"], "range": ["#5f8f1c", "#ff2a40"]},
                 "legend": {"orient": "top-left", "direction": "horizontal", "labelExpr": "datum.label == 'b' ? 'MACD Buy Signal (SPX) 0.00' : 'MACD Sell Signal (SPX) 0.00'"}}
     }},
    {"data": {"values": [{}]}, "mark": {"type": "rule", "color": "#555", "strokeWidth": 2.5},
     "encoding": {
       "x": {"datum": {"year": 2021, "month": 10, "date": 10},
             "axis": {"orient": "bottom", "labels": false, "domain": false, "ticks": true, "tickSize": 3, "tickColor": "#666", "tickCount": 60,
                      "values": [{"year":2021,"month":10,"date":10},{"year":2021,"month":11,"date":1},{"year":2021,"month":12,"date":1},{"year":2022,"month":1,"date":1},{"year":2022,"month":2,"date":1},{"year":2022,"month":3,"date":1},{"year":2022,"month":4,"date":1},{"year":2022,"month":5,"date":1},{"year":2022,"month":6,"date":1},{"year":2022,"month":7,"date":1},{"year":2022,"month":8,"date":1},{"year":2022,"month":9,"date":1},{"year":2022,"month":10,"date":1},{"year":2022,"month":11,"date":1},{"year":2022,"month":12,"date":1},{"year":2023,"month":1,"date":1},{"year":2023,"month":2,"date":1},{"year":2023,"month":3,"date":1},{"year":2023,"month":4,"date":1},{"year":2023,"month":5,"date":1},{"year":2023,"month":6,"date":1}]}},
       "x2": {"datum": {"year": 2023, "month": 7, "date": 5}},
       "y": {"datum": 2.36}
     }},
    {"data": {"values": [{"v": 0, "t": "0.00"}]},
     "encoding": {
       "x": {"datum": {"year": 2023, "month": 6, "date": 19},
             "axis": {"orient": "bottom", "offset": 8, "domain": false, "tickSize": 7, "tickColor": "#777", "labelPadding": -6, "labelFlush": false, "labelOverlap": false, "labelColor": "#444", "tickCount": 60,
                      "tickOpacity": {"condition": {"test": "month(datum.value) == 0", "value": 1}, "value": 0},
                      "labelExpr": "month(datum.value) == 0 ? '' : timeFormat(datum.value, '%Y')",
                      "values": [{"year":2021,"month":11,"date":14},{"year":2022,"month":1,"date":1},{"year":2022,"month":7,"date":1},{"year":2023,"month":1,"date":1},{"year":2023,"month":3,"date":16}]}},
       "y": {"field": "v", "type": "quantitative"}},
     "layer": [
       {"mark": {"type": "point", "shape": "M-1,0L-0.8,-0.27L1,-0.27L1,0.27L-0.8,0.27Z", "size": 676, "filled": true, "color": "#4e7d0e", "opacity": 1, "strokeWidth": 0}},
       {"mark": {"type": "text", "fontSize": 6, "color": "white", "align": "center", "baseline": "middle", "dx": 1}, "encoding": {"text": {"field": "t"}}}
     ]}
  ]
}
]
}
